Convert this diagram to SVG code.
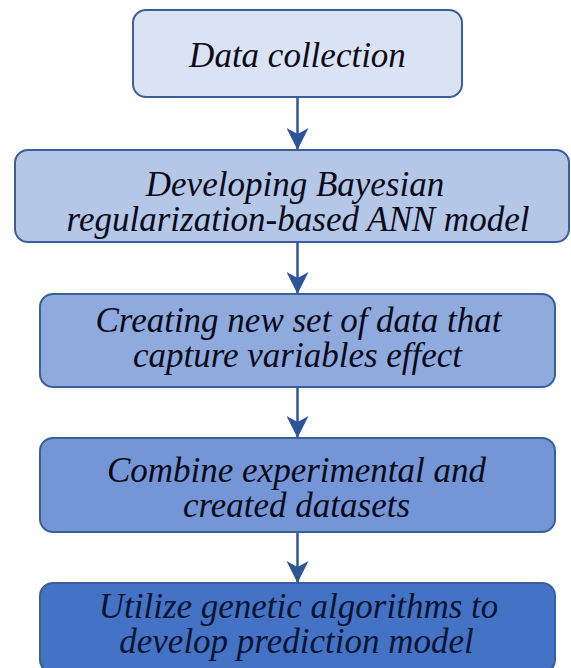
<svg xmlns="http://www.w3.org/2000/svg" width="571" height="668" viewBox="0 0 571 668">
  <defs>
    <marker id="arrow" markerUnits="userSpaceOnUse" markerWidth="24" markerHeight="24" refX="22" refY="11" orient="auto">
      <path d="M0,0 L22,11 L0,22 L6,11 Z" fill="#2f5597"/>
    </marker>
    <style>
      .box { stroke: #3b5f99; stroke-width: 2; }
      .lbl { font-family: 'Liberation Serif', 'Times New Roman', serif; font-style: italic; font-size: 35px; fill: #0a0a1a; text-anchor: middle; }
      .conn { stroke: #2f5597; stroke-width: 2.5; fill: none; marker-end: url(#arrow); }
    </style>
  </defs>
  <rect width="571" height="668" fill="#ffffff"/>
  <g id="connectors">
    <line class="conn" x1="297.5" y1="97" x2="297.5" y2="150"/>
    <line class="conn" x1="297.5" y1="242" x2="297.5" y2="294"/>
    <line class="conn" x1="297.5" y1="387" x2="297.5" y2="438"/>
    <line class="conn" x1="297.5" y1="532" x2="297.5" y2="583"/>
  </g>
  <g id="node1">
    <rect class="box" x="133" y="10" width="329" height="87" rx="13" fill="#dae3f3"/>
    <text class="lbl" x="297.5" y="67">Data collection</text>
  </g>
  <g id="node2">
    <rect class="box" x="15" y="150" width="554" height="92" rx="13" fill="#b4c7e7"/>
    <text class="lbl" y="196"><tspan x="295">Developing Bayesian</tspan><tspan x="298" dy="35">regularization-based ANN model</tspan></text>
  </g>
  <g id="node3">
    <rect class="box" x="40" y="294" width="515" height="93" rx="13" fill="#8faadc"/>
    <text class="lbl" y="332"><tspan x="298.5">Creating new set of data that</tspan><tspan x="297.5" dy="35">capture variables effect</tspan></text>
  </g>
  <g id="node4">
    <rect class="box" x="40" y="438" width="515" height="94" rx="13" fill="#7496d6"/>
    <text class="lbl" y="482"><tspan x="296.5">Combine experimental and</tspan><tspan x="296.5" dy="35">created datasets</tspan></text>
  </g>
  <g id="node5">
    <rect class="box" x="40" y="583" width="515" height="90" rx="13" fill="#4472c4"/>
    <text class="lbl" y="618" style="fill:#0a1433"><tspan x="298.5">Utilize genetic algorithms to</tspan><tspan x="296.5" dy="35">develop prediction model</tspan></text>
  </g>
</svg>
